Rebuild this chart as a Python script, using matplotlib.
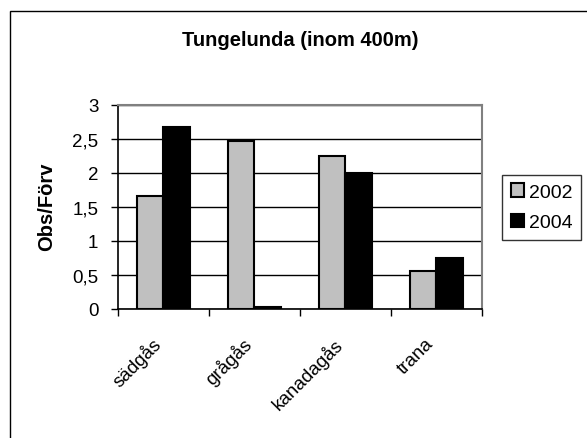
import matplotlib
matplotlib.use("Agg")
import matplotlib.pyplot as plt
import matplotlib.ticker as mticker
import matplotlib.transforms as mtransforms
from matplotlib.patches import Rectangle, Patch
import numpy as np

categories = ["sädgås", "grågås", "kanadagås", "trana"]
series_names = ["2002", "2004"]
values_2002 = [1.66, 2.47, 2.24, 0.56]
values_2004 = [2.67, 0.025, 2.0, 0.75]
y_ticks = [0, 0.5, 1, 1.5, 2, 2.5, 3]

plt.rcParams['font.family'] = ['Liberation Sans', 'DejaVu Sans']

W, H = 587, 439
fig = plt.figure(figsize=(W / 100, H / 100), dpi=100)
fig.patch.set_facecolor("white")

# outer chart frame
fig.add_artist(Rectangle((10 / W, 1 - 500 / H), 700 / W, (500 - 12) / H,
                         transform=fig.transFigure, fill=False,
                         edgecolor="black", linewidth=1.0))

ax = fig.add_axes([117.7 / W, 1 - 310 / H, (481.7 - 117.7) / W, (310 - 105.7) / H])
x = np.arange(len(categories))
bw = 0.29
colors = ["#C0C0C0", "#000000"]
ax.bar(x - bw / 2, values_2002, width=bw, color=colors[0], edgecolor="black",
       linewidth=1.5, zorder=3)
ax.bar(x + bw / 2, values_2004, width=bw, color=colors[1], edgecolor="black",
       linewidth=1.5, zorder=3)

ax.set_xlim(-0.5, len(categories) - 0.5)
ax.set_ylim(0, 3)
ax.set_yticks(y_ticks)
ax.yaxis.set_major_formatter(mticker.FuncFormatter(
    lambda v, p: ("%g" % v).replace(".", ",")))
ax.grid(axis="y", color="black", linewidth=1.0, zorder=0)
ax.set_axisbelow(True)

ax.set_xticks(np.arange(len(categories) + 1) - 0.5)
ax.set_xticklabels([])
ax.set_xticks(x, minor=True)
ax.set_xticklabels(categories, minor=True, rotation=45, ha="right",
                   va="center", rotation_mode="anchor", fontsize=13.5)
ax.tick_params(axis="x", which="minor", length=0, pad=23)
ax.tick_params(axis="x", which="major", direction="out", length=5, width=1)
ax.tick_params(axis="y", direction="out", length=5, width=1, labelsize=13.5, pad=9)

shift = mtransforms.ScaledTranslation(-5 / 100, 0, fig.dpi_scale_trans)
for lab in ax.get_xticklabels(minor=True):
    lab.set_transform(lab.get_transform() + shift)

for s in ["top", "right"]:
    ax.spines[s].set_color("#808080")
    ax.spines[s].set_linewidth(1.5)
for s in ["left", "bottom"]:
    ax.spines[s].set_color("black")
    ax.spines[s].set_linewidth(1.2)

fig.text(300 / W, 1 - 45.7 / H, "Tungelunda (inom 400m)", ha="center", va="baseline",
         fontsize=14.5, fontweight="bold")
fig.text(47 / W, 1 - 207 / H, "Obs/Förv", ha="center", va="center",
         rotation=90, fontsize=14.5, fontweight="bold")

handles = [Patch(facecolor=colors[0], edgecolor="black", linewidth=1.5),
           Patch(facecolor=colors[1], edgecolor="black", linewidth=1.5)]
leg = fig.legend(handles, series_names, loc="upper left",
                 bbox_to_anchor=(502 / W, 1 - 175.7 / H),
                 fontsize=14, frameon=True, fancybox=False,
                 handlelength=0.67, handleheight=0.67, handletextpad=0.26,
                 borderpad=0.45, labelspacing=0.65, borderaxespad=0)
leg.get_frame().set_edgecolor("black")
leg.get_frame().set_linewidth(1.0)

fig.savefig("out.png", dpi=100)
